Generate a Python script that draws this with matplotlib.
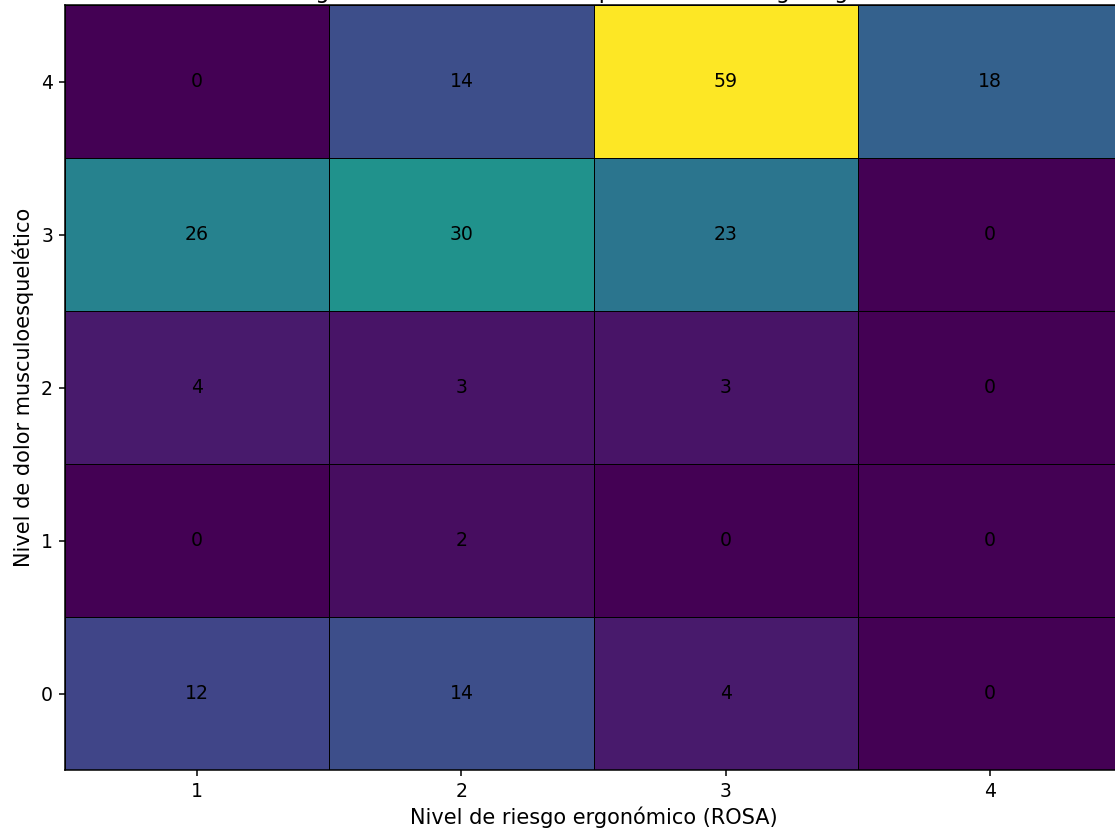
import numpy as np
import matplotlib
matplotlib.use("Agg")
import matplotlib.pyplot as plt

riesgo_labels = ["1", "2", "3", "4"]
dolor_labels = ["0", "1", "2", "3", "4"]
# rows: dolor 0..4 ; columns: riesgo 1..4
counts_dolor0 = [12, 14, 4, 0]
counts_dolor1 = [0, 2, 0, 0]
counts_dolor2 = [4, 3, 3, 0]
counts_dolor3 = [26, 30, 23, 0]
counts_dolor4 = [0, 14, 59, 18]

title_text = "Contingencia: dolor musculoesquelético vs riesgo ergonómico"
xlabel_text = "Nivel de riesgo ergonómico (ROSA)"
ylabel_text = "Nivel de dolor musculoesquelético"

plt.rcParams["font.family"] = "DejaVu Sans"

data = np.array([counts_dolor0, counts_dolor1, counts_dolor2, counts_dolor3, counts_dolor4])

fig = plt.figure(figsize=(11.15, 8.32), dpi=100)
ax = fig.add_axes([65 / 1115, (832 - 770) / 832, 1057 / 1115, 765 / 832])

nx, ny = len(riesgo_labels), len(dolor_labels)
xe = np.arange(nx + 1) + 0.5
ye = np.arange(ny + 1) - 0.5
ax.pcolormesh(xe, ye, data, cmap="viridis", vmin=0, vmax=data.max(),
              edgecolors="black", linewidth=0.6)

for i in range(ny):
    for j in range(nx):
        ax.text(j + 1, i, str(data[i, j]), ha="center", va="center",
                color="black", fontsize=13.6)

ax.set_xticks(np.arange(1, nx + 1))
ax.set_xticklabels(riesgo_labels)
ax.set_yticks(np.arange(ny))
ax.set_yticklabels(dolor_labels)
ax.set_xlim(0.5, nx + 0.5)
ax.set_ylim(-0.5, ny - 0.5)
ax.tick_params(labelsize=13.6, length=4.3, width=1.1, pad=4.3)
for sp in ax.spines.values():
    sp.set_linewidth(1.1)
ax.set_xlabel(xlabel_text, fontsize=15, labelpad=4)
ax.set_ylabel(ylabel_text, fontsize=15, labelpad=5)
ax.set_title(title_text, fontsize=16.3, pad=5)

fig.savefig("out.png", dpi=100)
